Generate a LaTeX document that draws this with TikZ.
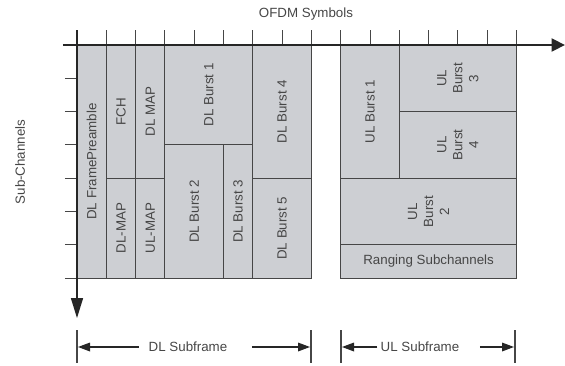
\documentclass[tikz,border=0pt]{standalone}
\usepackage{fontspec}
\setmainfont{Liberation Sans}
\usepackage{tikz}
\usetikzlibrary{arrows.meta,positioning}
\definecolor{cellgray}{RGB}{205,207,211}
\definecolor{linegray}{RGB}{70,70,70}

\begin{document}
\begin{tikzpicture}[x=0.75pt, y=-0.75pt,
    every node/.style={font=\fontsize{10}{12}\selectfont, text=linegray},
    cellbox/.style={fill=cellgray, draw=linegray, line width=0.7pt},
    celltext/.style={rotate=90, align=center, inner sep=1pt},
    axisline/.style={draw=black!85, line width=1.1pt},
    tickline/.style={draw=linegray, line width=0.7pt},
    subarrow/.style={-{Triangle[length=9pt,width=6.5pt]}, draw=black!85, line width=0.9pt}]
  \useasboundingbox (0,0) rectangle (565,365);
  % Frame grid: 29.3px columns, 33.3px rows
  \begin{scope}[shift={(77,45)}, x=21.975pt, y=-24.975pt]
    % Bursts
    \foreach \ca/\ra/\cb/\rb/\nm/\txt in {
        0/0/1/7/pre/{DL FramePreamble},
        1/0/2/4/fch/{FCH},
        1/4/2/7/dlmapa/{DL-MAP},
        2/0/3/4/dlmapb/{DL MAP},
        2/4/3/7/ulmapa/{UL-MAP},
        3/0/6/3/dlb1/{DL Burst 1},
        3/3/5/7/dlb2/{DL Burst 2},
        5/3/6/7/dlb3/{DL Burst 3},
        6/0/8/4/dlb4/{DL Burst 4},
        6/4/8/7/dlb5/{DL Burst 5},
        9/0/11/4/ulb1/{UL Burst 1},
        11/0/15/2/ulb3/{UL\\Burst\\3},
        11/2/15/4/ulb4/{UL\\Burst\\4},
        9/4/15/6/ulb2/{UL\\Burst\\2}} {
      \filldraw[cellbox] (\ca,\ra) rectangle (\cb,\rb);
      \node[celltext] (\nm) at ({(\ca+\cb)/2},{(\ra+\rb)/2}) {\txt};
    }
    \filldraw[cellbox] (9,6) rectangle (15,7);
    \node (rng) at (12,6.5) {Ranging Subchannels};
    % Ticks
    \foreach \k in {0,...,15}
      \draw[tickline] (\k,-0.45) -- (\k,0);
    \foreach \r in {1,...,7}
      \draw[tickline] (-0.41,\r) -- (0,\r);
    % Axes
    \coordinate (hstart) at (-0.48,0);
    \coordinate (hend) at (16.65,0);
    \coordinate (vstart) at (0,-0.45);
    \coordinate (vend) at (0,8.2);
    \draw[axisline, -{Triangle[length=10pt,width=10pt]}] (hstart) -- (hend);
    \draw[axisline, -{Triangle[length=15pt,width=9pt]}] (vstart) -- (vend);
  \end{scope}
  % Axis labels
  \node (ofdm) at (306,14) {OFDM Symbols};
  \node[rotate=90] (subch) at (20,162) {Sub-Channels};
  % Subframe brackets
  \draw[tickline, line width=0.9pt] (77,330) -- (77,363);
  \draw[tickline, line width=0.9pt] (311,330) -- (311,363);
  \draw[tickline, line width=0.9pt] (341,330) -- (341,363);
  \draw[tickline, line width=0.9pt] (515,330) -- (515,363);
  \coordinate (dlL) at (78,347);
  \coordinate (dlR) at (310,347);
  \coordinate (ulL) at (342,347);
  \coordinate (ulR) at (514,347);
  \node (dlsub) at (188,347) {DL Subframe};
  \node (ulsub) at (420,347) {UL Subframe};
  \draw[subarrow] ([xshift=-4pt]dlsub.west) -- (dlL);
  \draw[subarrow] ([xshift=15pt]dlsub.east) -- (dlR);
  \draw[subarrow] ([xshift=1pt]ulsub.west) -- (ulL);
  \draw[subarrow] ([xshift=12pt]ulsub.east) -- (ulR);
\end{tikzpicture}
\end{document}
